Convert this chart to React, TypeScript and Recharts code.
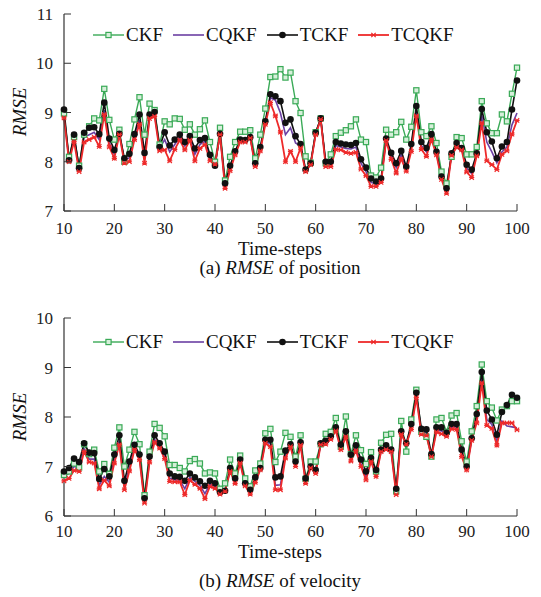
import { LineChart, Line, XAxis, YAxis, Legend } from 'recharts'

const FONT = '"Liberation Serif", "Times New Roman", serif'
const AXIS = '#333'

const STEPS = Array.from({ length: 91 }, (_, i) => 10 + i)
const X_TICKS = [10, 20, 30, 40, 50, 60, 70, 80, 90, 100]
const POS_TICKS = [7, 8, 9, 10, 11]
const VEL_TICKS = [6, 7, 8, 9, 10]

// (a) RMSE of position, steps 10..100
const CKF_POS = [
  8.98, 8.1, 8.5, 7.92, 8.55, 8.72, 8.88, 8.84, 9.48, 8.85,
  8.45, 8.65, 8.0, 8.36, 8.86, 9.31, 8.55, 9.18, 9.05, 8.35,
  8.82, 8.76, 8.88, 8.87, 8.65, 8.76, 8.55, 8.66, 8.84, 8.4,
  8.0, 8.69, 7.62, 8.1, 8.4, 8.61, 8.61, 8.64, 8.07, 8.55,
  9.08, 9.72, 9.73, 9.88, 9.71, 9.81, 9.23, 8.99, 8.11, 7.98,
  8.6, 8.88, 7.97, 8.15, 8.52, 8.59, 8.64, 8.72, 8.86, 8.45,
  8.4, 7.72, 7.68, 7.88, 8.65, 8.55, 8.6, 8.81, 8.45, 8.71,
  9.45, 8.6, 8.52, 8.72, 8.38, 7.8, 7.56, 8.1, 8.5, 8.48,
  8.15, 8.15, 8.3, 9.23, 8.78, 8.58, 8.58, 8.96, 8.82, 9.38,
  9.91,
]
const CQKF_POS = [
  8.95, 8.02, 8.5, 7.85, 8.5, 8.55, 8.6, 8.45, 9.05, 8.38,
  8.15, 8.56, 8.02, 8.08, 8.5, 8.85, 8.05, 8.9, 8.95, 8.27,
  8.45, 8.2, 8.35, 8.5, 8.32, 8.48, 8.15, 8.35, 8.42, 8.08,
  7.93, 8.56, 7.5, 7.87, 8.18, 8.42, 8.42, 8.49, 7.93, 8.25,
  8.8, 9.3, 9.25, 8.99, 8.55, 8.69, 8.38, 8.32, 7.82, 7.95,
  8.57, 8.87, 7.95, 7.95, 8.33, 8.3, 8.27, 8.26, 8.3, 7.97,
  7.8, 7.58, 7.55, 7.62, 8.45, 8.12, 7.88, 8.15, 7.86, 8.3,
  9.05, 8.33, 8.2, 8.5, 8.17, 7.67, 7.41, 8.15, 8.34, 8.26,
  7.87, 7.76, 8.15, 8.95, 8.4, 8.2, 7.98, 8.2, 8.3, 8.75,
  8.99,
]
const TCKF_POS = [
  9.06, 8.03, 8.55, 7.87, 8.59, 8.69, 8.7, 8.56, 9.2, 8.47,
  8.24, 8.57, 8.07, 8.16, 8.56, 8.96, 8.18, 8.96, 9.01, 8.3,
  8.6, 8.33, 8.45, 8.55, 8.4, 8.52, 8.27, 8.44, 8.48, 8.14,
  7.92, 8.57, 7.56, 7.92, 8.21, 8.45, 8.44, 8.5, 7.97, 8.3,
  8.82, 9.37, 9.33, 9.23, 8.79, 8.86, 8.52, 8.36, 7.84, 7.97,
  8.59, 8.88, 8.0, 8.0, 8.4, 8.37, 8.35, 8.34, 8.38, 8.05,
  7.88, 7.66, 7.6, 7.66, 8.47, 8.18, 7.97, 8.22, 7.9, 8.36,
  9.13, 8.4, 8.28, 8.56, 8.2, 7.7, 7.46, 8.17, 8.38, 8.28,
  7.94, 7.84, 8.17, 9.07, 8.6, 8.41, 8.07, 8.31, 8.4, 9.06,
  9.65,
]
const TCQKF_POS = [
  8.89, 8.0, 8.41, 7.8, 8.4, 8.45, 8.5, 8.31, 8.96, 8.3,
  8.07, 8.55, 7.97, 8.0, 8.45, 8.76, 7.97, 8.88, 8.92, 8.22,
  8.24, 8.02, 8.25, 8.44, 8.24, 8.44, 8.02, 8.27, 8.35, 8.02,
  7.95, 8.55, 7.46, 7.82, 8.14, 8.4, 8.4, 8.48, 7.9, 8.22,
  8.76, 9.2, 8.93, 8.6, 8.0, 8.21, 8.0, 8.28, 7.8, 7.94,
  8.55, 8.86, 7.9, 7.9, 8.25, 8.24, 8.19, 8.17, 8.19, 7.85,
  7.72, 7.5, 7.5, 7.58, 8.43, 8.05, 7.77, 8.06, 7.81, 8.21,
  8.93, 8.25, 8.11, 8.45, 8.14, 7.64, 7.36, 8.13, 8.29, 8.24,
  7.79, 7.68, 8.12, 8.79, 8.02, 7.94, 7.84, 8.15, 8.22, 8.56,
  8.84,
]

// (b) RMSE of velocity, steps 10..100
const CKF_VEL = [
  6.83, 6.9, 7.06, 6.98, 7.45, 7.25, 7.34, 6.9, 7.05, 6.85,
  7.38, 7.79, 7.0, 7.34, 7.7, 7.45, 6.42, 7.3, 7.86, 7.78,
  7.61, 7.03, 7.03, 6.97, 6.9, 7.11, 7.15, 7.06, 6.86, 6.88,
  6.86, 6.55, 6.66, 7.14, 6.86, 7.22, 6.76, 6.6, 6.92, 7.06,
  7.67, 7.76, 7.09, 7.3, 7.68, 7.6, 7.2, 7.63, 6.75, 7.1,
  7.1, 7.45, 7.66, 7.7, 7.98, 7.4, 8.01, 7.25, 7.63, 7.33,
  7.05, 7.29, 6.9, 7.48, 7.64, 7.66, 6.5, 7.92, 7.3, 7.95,
  8.55, 7.7, 7.6, 7.2, 7.95, 7.98, 7.7, 8.03, 8.08, 7.51,
  7.1, 7.71, 8.22, 9.06, 8.32, 8.19, 7.93, 8.15, 8.22, 8.32,
  8.32,
]
const CQKF_VEL = [
  6.8, 6.86, 7.0, 6.97, 7.36, 7.15, 7.15, 6.62, 6.8, 6.68,
  7.13, 7.52, 6.6, 6.98, 7.38, 7.18, 6.3, 7.13, 7.55, 7.41,
  7.2, 6.76, 6.73, 6.73, 6.55, 6.78, 6.7, 6.62, 6.45, 6.64,
  6.6, 6.46, 6.5, 6.93, 6.7, 7.1, 6.63, 6.48, 6.72, 6.95,
  7.5, 7.46, 6.62, 6.63, 7.23, 7.42, 7.04, 7.45, 6.7, 6.98,
  6.89, 7.45, 7.48, 7.57, 7.75, 7.38, 7.64, 7.16, 7.36, 7.05,
  6.79, 7.13, 6.85, 7.31, 7.37, 7.31, 6.48, 7.68, 7.45, 7.8,
  8.44, 7.7, 7.68, 7.22, 7.74, 7.72, 7.64, 7.8, 7.8, 7.26,
  6.96, 7.55, 7.95, 8.8, 7.95, 7.85, 7.5, 7.92, 7.82, 7.8,
  7.78,
]
const TCKF_VEL = [
  6.9, 6.97, 7.16, 7.09, 7.47, 7.28, 7.27, 6.75, 6.95, 6.8,
  7.24, 7.63, 6.71, 7.1, 7.44, 7.24, 6.36, 7.2, 7.63, 7.47,
  7.3, 6.86, 6.8, 6.79, 6.71, 6.86, 6.78, 6.7, 6.61, 6.71,
  6.66, 6.48, 6.51, 6.97, 6.76, 7.14, 6.66, 6.53, 6.78, 6.97,
  7.54, 7.54, 6.78, 6.8, 7.32, 7.45, 7.1, 7.49, 6.76, 7.0,
  6.93, 7.47, 7.52, 7.61, 7.79, 7.44, 7.71, 7.24, 7.43, 7.14,
  6.9, 7.17, 6.93, 7.34, 7.43, 7.34, 6.55, 7.71, 7.47, 7.86,
  8.49, 7.76, 7.75, 7.25, 7.79, 7.79, 7.68, 7.86, 7.86, 7.34,
  7.0, 7.57, 8.06, 8.91, 8.13, 7.95, 7.64, 8.1, 8.24, 8.45,
  8.39,
]
const TCQKF_VEL = [
  6.71, 6.76, 6.92, 6.9, 7.3, 7.09, 7.07, 6.55, 6.72, 6.61,
  7.07, 7.44, 6.53, 6.91, 7.34, 7.14, 6.26, 7.09, 7.49, 7.37,
  7.16, 6.7, 6.69, 6.69, 6.43, 6.72, 6.64, 6.56, 6.35, 6.6,
  6.56, 6.44, 6.5, 6.9, 6.66, 7.07, 6.61, 6.44, 6.68, 6.93,
  7.47, 7.4, 6.53, 6.53, 7.17, 7.4, 7.0, 7.43, 6.66, 6.97,
  6.86, 7.44, 7.45, 7.55, 7.72, 7.34, 7.6, 7.11, 7.32, 7.0,
  6.73, 7.1, 6.8, 7.3, 7.34, 7.3, 6.43, 7.65, 7.45, 7.75,
  8.39, 7.65, 7.63, 7.2, 7.7, 7.66, 7.61, 7.76, 7.75, 7.2,
  6.93, 7.53, 7.88, 8.69, 7.83, 7.77, 7.43, 7.88, 7.88, 7.88,
  7.74,
]

const SERIES = [
  { key: 'CKF', color: '#3aaa57', marker: 'square', width: 1.4 },
  { key: 'CQKF', color: '#6b3fa3', marker: 'none', width: 1.6 },
  { key: 'TCKF', color: '#111111', marker: 'circle', width: 1.6 },
  { key: 'TCQKF', color: '#ee2a2a', marker: 'cross', width: 1.8 },
]

const posData = STEPS.map((step, i) => ({
  step, CKF: CKF_POS[i], CQKF: CQKF_POS[i], TCKF: TCKF_POS[i], TCQKF: TCQKF_POS[i],
}))
const velData = STEPS.map((step, i) => ({
  step, CKF: CKF_VEL[i], CQKF: CQKF_VEL[i], TCKF: TCKF_VEL[i], TCQKF: TCQKF_VEL[i],
}))

function Marker({ type, cx, cy, color }: { type: string; cx: number; cy: number; color: string }) {
  if (type === 'square')
    return <rect x={cx - 2.6} y={cy - 2.6} width={5.2} height={5.2} fill="#d6efda" stroke={color} strokeWidth={1.2} />
  if (type === 'circle') return <circle cx={cx} cy={cy} r={3.3} fill={color} />
  if (type === 'cross') {
    const d = `M${cx - 2.2},${cy - 2.2}L${cx + 2.2},${cy + 2.2}M${cx - 2.2},${cy + 2.2}L${cx + 2.2},${cy - 2.2}M${cx - 2.6},${cy}L${cx + 2.6},${cy}`
    return <path d={d} stroke={color} strokeWidth={1.2} fill="none" />
  }
  return null
}

function LegendRow() {
  return (
    <div style={{ display: 'flex', alignItems: 'center', fontFamily: FONT, fontSize: 19, color: '#111' }}>
      {SERIES.map((s, i) => (
        <div key={s.key} style={{ display: 'flex', alignItems: 'center', marginLeft: i ? 10 : 0 }}>
          <svg width={31} height={12}>
            <line x1={0} y1={6} x2={31} y2={6} stroke={s.color} strokeWidth={s.width} />
            <Marker type={s.marker} cx={15.5} cy={6} color={s.color} />
          </svg>
          <span style={{ marginLeft: 2, lineHeight: '20px' }}>{s.key}</span>
        </div>
      ))}
    </div>
  )
}

function Panel({ data, domain, ticks, height, margin, legendTop, labelDy }: any) {
  return (
    <LineChart width={541} height={height} data={data} margin={margin}>
      <XAxis
        dataKey="step" type="number" domain={[10, 100]} ticks={X_TICKS} interval={0}
        height={20} tickSize={0} tickMargin={0} tickLine={false}
        axisLine={{ stroke: AXIS, strokeWidth: 1.2 }}
        tick={(p: any) => (
          <g>
            <line x1={p.x} y1={p.y} x2={p.x} y2={p.y - 7} stroke={AXIS} />
            <text x={p.x} y={p.y + labelDy} textAnchor="middle" fontSize={17} fill="#222" fontFamily={FONT}>
              {p.payload.value}
            </text>
          </g>
        )}
      />
      <XAxis xAxisId="top" orientation="top" dataKey="step" type="number" domain={[10, 100]}
        height={0} tick={false} tickLine={false} axisLine={{ stroke: AXIS, strokeWidth: 1.2 }} />
      <YAxis
        type="number" domain={domain} ticks={ticks} interval={0} width={64}
        tickSize={0} tickMargin={0} tickLine={false}
        axisLine={{ stroke: AXIS, strokeWidth: 1.2 }}
        tick={(p: any) => (
          <g>
            <line x1={p.x} y1={p.y} x2={p.x + 7} y2={p.y} stroke={AXIS} />
            <text x={p.x - 11} y={p.y + 6} textAnchor="end" fontSize={17} fill="#222" fontFamily={FONT}>
              {p.payload.value}
            </text>
          </g>
        )}
      />
      <YAxis yAxisId="right" orientation="right" type="number" domain={domain} width={0}
        tick={false} tickLine={false} axisLine={{ stroke: AXIS, strokeWidth: 1.2 }} />
      <Legend
        layout="horizontal" verticalAlign="middle" align="center"
        wrapperStyle={{ top: legendTop, left: 93, width: 420 }}
        content={() => <LegendRow />}
      />
      {SERIES.map(s => (
        <Line
          key={s.key} dataKey={s.key} stroke={s.color} strokeWidth={s.width} type="linear"
          isAnimationActive={false}
          dot={s.marker === 'none' ? false : (p: any) => (
            <g key={`${s.key}-${p.index}`}>
              <Marker type={s.marker} cx={p.cx} cy={p.cy} color={s.color} />
            </g>
          )}
          activeDot={false}
        />
      ))}
    </LineChart>
  )
}

const textStyle = { position: 'absolute' as const, left: 0, width: 560, textAlign: 'center' as const, fontSize: 19, lineHeight: '18px', height: 18, color: '#111' }

function YLabel({ cy }: { cy: number }) {
  return (
    <div style={{
      position: 'absolute', left: -20, top: cy - 11, width: 80, height: 22, lineHeight: '22px',
      textAlign: 'center', fontSize: 19, fontStyle: 'italic', color: '#111', transform: 'rotate(-90deg)',
    }}>RMSE</div>
  )
}

export default function App() {
  return (
    <div style={{ position: 'absolute', left: 0, top: 0, width: 541, height: 597, background: '#fff', fontFamily: FONT }}>
      <div style={{ position: 'absolute', left: 0, top: 0 }}>
        <Panel data={posData} domain={[7, 11]} ticks={POS_TICKS} height={300}
          margin={{ top: 14, right: 24, bottom: 69, left: 0 }} legendTop={25} labelDy={23} />
      </div>
      <div style={{ position: 'absolute', left: 0, top: 300 }}>
        <Panel data={velData} domain={[6, 10]} ticks={VEL_TICKS} height={297}
          margin={{ top: 18, right: 24, bottom: 61, left: 0 }} legendTop={32} labelDy={21} />
      </div>
      <YLabel cy={112} />
      <YLabel cy={417} />
      <div style={{ ...textStyle, top: 240 }}>Time-steps</div>
      <div style={{ ...textStyle, top: 259 }}>(a) <i>RMSE</i> of position</div>
      <div style={{ ...textStyle, top: 543 }}>Time-steps</div>
      <div style={{ ...textStyle, top: 572 }}>(b) <i>RMSE</i> of velocity</div>
    </div>
  )
}
